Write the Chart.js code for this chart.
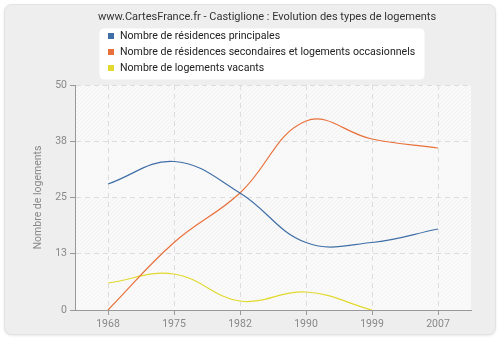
<!DOCTYPE html>
<html>
<head>
<meta charset="utf-8">
<script src="https://cdn.jsdelivr.net/npm/chart.js@4/dist/chart.umd.min.js"></script>
<style>
  html, body { margin: 0; padding: 0; background: #fff; }
  #wrap { width: 500px; height: 340px; position: relative; }
</style>
</head>
<body>
<div id="wrap"><canvas id="chart" width="500" height="340"></canvas></div>
<script>
const years = ["1968", "1975", "1982", "1990", "1999", "2007"];
const principales = [28, 33, 26, 15, 15, 18];
const secondaires = [0, 15, 26, 42, 38, 36];
const vacants = [6, 8, 2, 4, 0, null];
const yTicks = [0, 12.5, 25, 37.5, 50];
const yTickLabels = ["0", "13", "25", "38", "50"];

const seriesNames = [
  "Nombre de résidences principales",
  "Nombre de résidences secondaires et logements occasionnels",
  "Nombre de logements vacants",
];
const seriesColors = ["#3f6fa6", "#e8703a", "#e2d92e"];

const FONT = "Roboto, 'Liberation Sans', sans-serif";

function roundRect(ctx, x, y, w, h, r) {
  ctx.beginPath();
  ctx.moveTo(x + r, y);
  ctx.lineTo(x + w - r, y);
  ctx.quadraticCurveTo(x + w, y, x + w, y + r);
  ctx.lineTo(x + w, y + h - r);
  ctx.quadraticCurveTo(x + w, y + h, x + w - r, y + h);
  ctx.lineTo(x + r, y + h);
  ctx.quadraticCurveTo(x, y + h, x, y + h - r);
  ctx.lineTo(x, y + r);
  ctx.quadraticCurveTo(x, y, x + r, y);
  ctx.closePath();
}

// panel, hatched plot background, title and legend
const decor = {
  id: "decor",
  beforeDraw(chart) {
    const ctx = chart.ctx;
    const area = chart.chartArea;
    ctx.save();
    ctx.fillStyle = "#ffffff";
    ctx.fillRect(0, 0, chart.width, chart.height);
    ctx.shadowColor = "rgba(0,0,0,0.12)";
    ctx.shadowBlur = 3;
    ctx.shadowOffsetY = 1;
    roundRect(ctx, 4.5, 4.5, 491, 330, 8);
    ctx.fillStyle = "#eeeeee";
    ctx.fill();
    ctx.shadowColor = "transparent";
    ctx.strokeStyle = "#e2e2e2";
    ctx.lineWidth = 1;
    ctx.stroke();

    // plot background
    ctx.fillStyle = "#fafafa";
    ctx.fillRect(area.left, area.top, area.right - area.left, area.bottom - area.top);
    const y = chart.scales.y;
    for (let i = 0; i < yTicks.length - 1; i++) {
      const top = y.getPixelForValue(yTicks[i + 1]);
      const bot = y.getPixelForValue(yTicks[i]);
      ctx.save();
      ctx.beginPath();
      ctx.rect(area.left, top, area.right - area.left, bot - top);
      ctx.clip();
      ctx.strokeStyle = i % 2 === 1 ? "#efefef" : "#f4f4f4";
      ctx.lineWidth = 1;
      for (let x = area.left - 300; x < area.right + 300; x += 4) {
        ctx.beginPath();
        ctx.moveTo(x, bot);
        ctx.lineTo(x + (bot - top), top);
        ctx.stroke();
      }
      ctx.restore();
    }

    // title
    ctx.fillStyle = "#333333";
    ctx.font = "11px " + FONT;
    ctx.textAlign = "center";
    ctx.textBaseline = "middle";
    ctx.fillText("www.CartesFrance.fr - Castiglione : Evolution des types de logements", 267, 17);

    // legend
    roundRect(ctx, 99.5, 28.5, 325, 51, 5);
    ctx.fillStyle = "#ffffff";
    ctx.fill();
    ctx.textAlign = "left";
    ctx.font = "10.6px " + FONT;
    seriesNames.forEach((name, i) => {
      const cy = 36 + i * 16;
      ctx.fillStyle = seriesColors[i];
      ctx.fillRect(108, cy - 3, 6, 6);
      ctx.fillStyle = "#222222";
      ctx.fillText(name, 120, cy);
    });
    ctx.restore();
  },
};

new Chart(document.getElementById("chart"), {
  type: "line",
  data: {
    labels: years,
    datasets: [
      { label: seriesNames[0], data: principales, borderColor: seriesColors[0] },
      { label: seriesNames[1], data: secondaires, borderColor: seriesColors[1] },
      { label: seriesNames[2], data: vacants, borderColor: seriesColors[2] },
    ].map((d) => ({
      ...d,
      borderWidth: 1.2,
      pointRadius: 0,
      tension: 0.4,
      fill: false,
      spanGaps: false,
    })),
  },
  options: {
    responsive: false,
    animation: false,
    events: [],
    layout: { padding: { left: 0, right: 29, top: 85, bottom: 0 } },
    plugins: { legend: { display: false }, title: { display: false }, tooltip: { enabled: false } },
    scales: {
      x: {
        offset: true,
        grid: {
          color: "#dddddd",
          tickColor: "#999999",
          tickLength: 5,
          offset: false,
        },
        border: { color: "#999999", width: 1, dash: [5, 4] },
        ticks: { color: "#888888", font: { family: FONT, size: 10.5 }, padding: 3 },
        afterFit(scale) { scale.height = 30; },
      },
      y: {
        min: 0,
        max: 50,
        afterBuildTicks(scale) {
          scale.ticks = yTicks.map((v) => ({ value: v }));
        },
        grid: { color: "#dddddd", tickColor: "#999999", tickLength: 5 },
        border: { color: "#999999", width: 1, dash: [5, 4] },
        ticks: {
          color: "#888888",
          font: { family: FONT, size: 10.5 },
          padding: 3,
          callback: (v, i) => yTickLabels[i],
        },
        title: {
          display: true,
          text: "Nombre de logements",
          color: "#888888",
          font: { family: FONT, size: 10.5 },
          padding: { top: 32, bottom: 0 },
        },
        afterFit(scale) { scale.width = 75; },
      },
    },
  },
  plugins: [decor],
});
</script>
</body>
</html>
